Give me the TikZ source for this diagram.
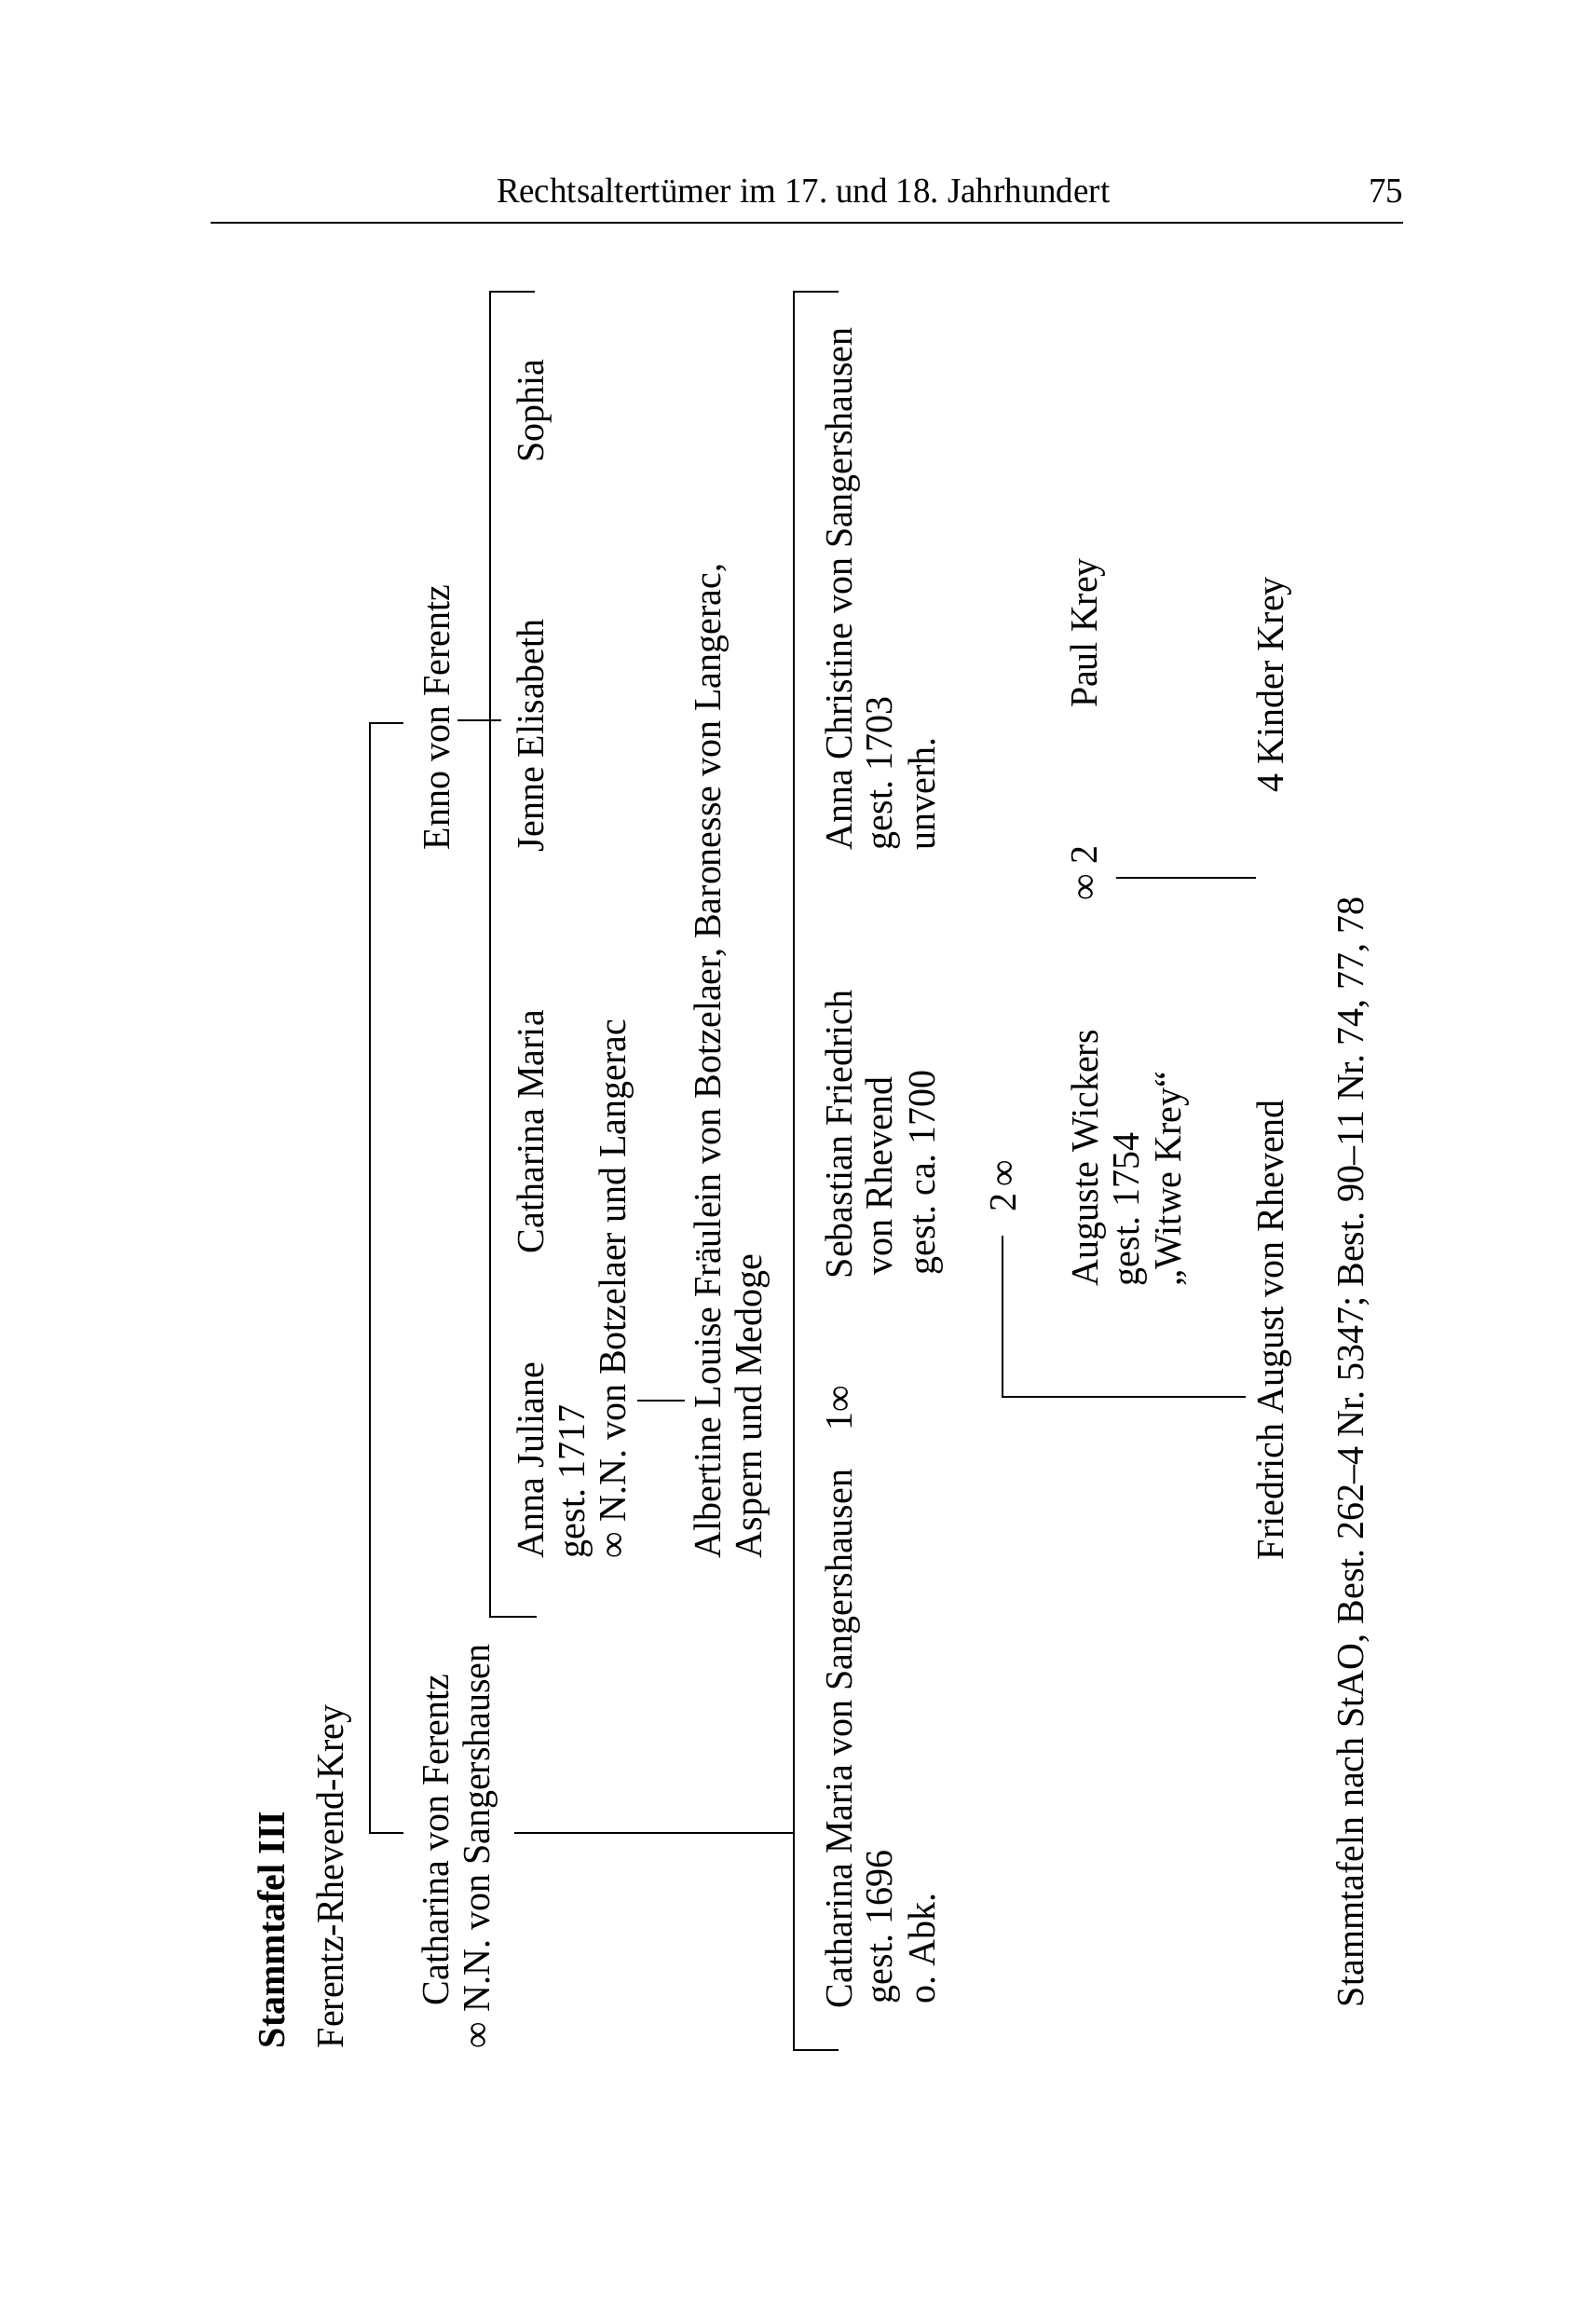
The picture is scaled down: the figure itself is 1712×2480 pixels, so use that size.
\documentclass[tikz,border=0pt]{standalone}
\usepackage{fontspec}
\setmainfont{Liberation Serif}[FakeStretch=0.97]
\tikzset{
  txt/.style={rotate=90, anchor=base west, inner sep=0pt, outer sep=0pt, font=\fontsize{10.3}{11}\selectfont},
  txtb/.style={txt, font=\fontsize{10.3}{11}\selectfont\bfseries},
  hd/.style={inner sep=0pt, outer sep=0pt, font=\fontsize{9.5}{11}\selectfont},
  ln/.style={line width=0.6pt},
  rule/.style={line width=0.7pt}
}
\begin{document}
\frenchspacing
\begin{tikzpicture}[x=0.25pt, y=-0.25pt]
\useasboundingbox (0,0) rectangle (1712,2480);
% header
\node[hd, anchor=base west] (hdr) at (533,218) {Rechtsaltertümer im 17. und 18. Jahrhundert};
\node[hd, anchor=base east] (pno) at (1506,218) {75};
\coordinate (ruleL) at (226,239);
\coordinate (ruleR) at (1506,239);
\draw[rule] (ruleL) -- (ruleR);

% title
\node[txtb] (title) at (305,2198) {Stammtafel III};
\node[txt] (sub) at (368,2198) {Ferentz-Rhevend-Krey};

% generation 1
\node[txt] (cathF) at (481,2152) {Catharina von Ferentz};
\node[txt] (nnS) at (525,2198) {∞ N.N. von Sangershausen};
\node[txt] (enno) at (482,912) {Enno von Ferentz};

% children of Enno
\node[txt] (annaJ1) at (583,1672) {Anna Juliane};
\node[txt] (annaJ2) at (627,1672) {gest. 1717};
\node[txt] (annaJ3) at (671,1672) {∞ N.N. von Botzelaer und Langerac};
\node[txt] (cathM) at (583,1345) {Catharina Maria};
\node[txt] (jenne) at (583,914) {Jenne Elisabeth};
\node[txt] (sophia) at (583,497) {Sophia};
\node[txt] (albert1) at (773,1672) {Albertine Louise Fräulein von Botzelaer, Baronesse von Langerac,};
\node[txt] (albert2) at (817,1672) {Aspern und Medoge};

% children of Catharina von Ferentz
\node[txt] (cms1) at (914,2155) {Catharina Maria von Sangershausen};
\node[txt] (cms1m) at (914,1535) {1∞};
\node[txt] (cms2) at (957,2150) {gest. 1696};
\node[txt] (cms3) at (1003,2150) {o. Abk.};
\node[txt] (seb1) at (914,1372) {Sebastian Friedrich};
\node[txt] (seb2) at (957,1368) {von Rhevend};
\node[txt] (seb3) at (1003,1368) {gest. ca. 1700};
\node[txt] (acs1) at (914,912) {Anna Christine von Sangershausen};
\node[txt] (acs2) at (957,912) {gest. 1703};
\node[txt] (acs3) at (1003,912) {unverh.};

% second marriage
\node[txt] (zwei) at (1090,1300) {2\,∞};
\node[txt] (aug1) at (1178,1380) {Auguste Wickers};
\node[txt] (aug2) at (1222,1380) {gest. 1754};
\node[txt] (aug3) at (1267,1380) {„Witwe Krey“};
\node[txt] (zwei2) at (1177,966) {∞ 2};
\node[txt] (paul) at (1177,760) {Paul Krey};
\node[txt] (fried) at (1377,1674) {Friedrich August von Rhevend};
\node[txt] (kinder) at (1377,850) {4 Kinder Krey};

% footer
\node[txt] (foot) at (1463,2154) {Stammtafeln nach StAO, Best. 262–4 Nr. 5347; Best. 90–11 Nr. 74, 77, 78};

% connectors
\coordinate (a1) at (433,776);  \coordinate (a2) at (397,776);
\coordinate (a3) at (397,1967); \coordinate (a4) at (433,1967);
\draw[ln] (a1) -- (a2) -- (a3) -- (a4);

\coordinate (e1) at (491,773); \coordinate (e2) at (538,773);
\draw[ln] (e1) -- (e2);

\coordinate (c1) at (574,313);  \coordinate (c2) at (526,313);
\coordinate (c3) at (526,1735); \coordinate (c4) at (576,1735);
\draw[ln] (c1) -- (c2) -- (c3) -- (c4);

\coordinate (b1) at (552,1967); \coordinate (b2) at (852,1967);
\draw[ln] (b1) -- (b2);

\coordinate (d1) at (900,313);  \coordinate (d2) at (852,313);
\coordinate (d3) at (852,2200); \coordinate (d4) at (900,2200);
\draw[ln] (d1) -- (d2) -- (d3) -- (d4);

\coordinate (n1) at (684,1503); \coordinate (n2) at (735,1503);
\draw[ln] (n1) -- (n2);

\coordinate (z1) at (1076,1326); \coordinate (z2) at (1076,1499);
\coordinate (z3) at (1337,1499);
\draw[ln] (z1) -- (z2) -- (z3);

\coordinate (k1) at (1198,942); \coordinate (k2) at (1348,942);
\draw[ln] (k1) -- (k2);
\end{tikzpicture}
\end{document}
